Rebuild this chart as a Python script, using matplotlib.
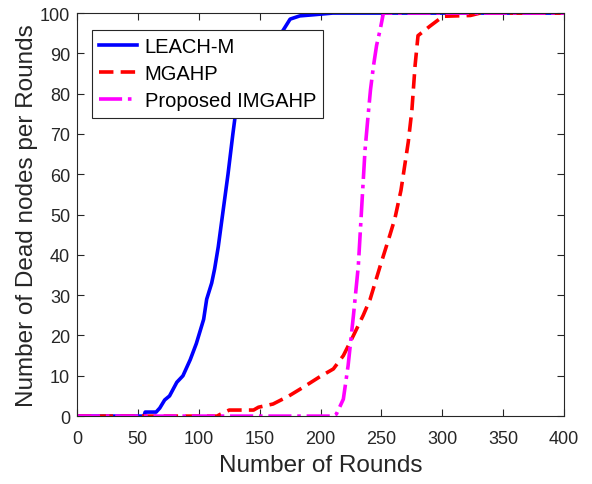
import matplotlib
matplotlib.use("Agg")
import matplotlib.pyplot as plt

plt.rcParams['font.family'] = ['Liberation Sans', 'DejaVu Sans']

# LEACH-M
leach_x = [0, 55, 56, 65, 68, 72, 76, 82, 87, 93, 98, 104, 106.5, 110.6, 113, 116,
           120, 124, 128, 131, 140, 150, 160, 169, 175, 183, 195, 210, 400]
leach_y = [0, 0, 1, 1, 2, 4, 5, 8.4, 10, 14, 18, 24, 29, 33, 36.5, 42,
           51, 60, 70, 77, 85, 90, 93, 95.6, 98.5, 99.3, 99.6, 100, 100]

# MGAHP
mgahp_x = [0, 115, 118, 125, 145, 149, 161, 174, 186, 198.5, 210.5, 218.7, 227, 235,
           240.7, 249, 257, 261, 266, 272, 275, 277.6, 280, 290, 300.6, 323, 331, 400]
mgahp_y = [0, 0, 0.5, 1.5, 1.5, 2.2, 3, 5, 7.2, 9.6, 11.7, 15, 20, 25,
           29, 37.3, 45, 49, 56, 68, 76, 87, 94.4, 96.8, 99.2, 99.4, 100, 100]

# Proposed IMGAHP
img_x = [0, 210, 213, 218.7, 222.6, 227, 231, 233.8, 236.5, 239, 241, 243.5, 246, 249, 251.6, 400]
img_y = [0, 0, 0.5, 4.2, 12.5, 25, 37.3, 52, 66, 74.5, 81, 87, 92, 96, 100, 100]

dark = '#262626'

fig = plt.figure(figsize=(5.92, 4.85), dpi=100)
ax = fig.add_axes([0.130, 0.140, 0.823, 0.831])

ax.plot(leach_x, leach_y, color='#0000ff', linewidth=2.6, label='LEACH-M')
ax.plot(mgahp_x, mgahp_y, color='#ff0000', linewidth=2.6, dashes=(4, 2), label='MGAHP')
ax.plot(img_x, img_y, color='#ff00ff', linewidth=2.6, linestyle='-.', label='Proposed IMGAHP')

ax.set_xlim(0, 400)
ax.set_ylim(0, 100)
ax.set_xticks(range(0, 401, 50))
ax.set_yticks(range(0, 101, 10))
ax.tick_params(direction='in', top=True, right=True, length=5, width=0.8,
               labelsize=13, colors=dark)
ax.tick_params(axis='x', pad=10)
ax.tick_params(axis='y', pad=5)
for s in ax.spines.values():
    s.set_color(dark)
    s.set_linewidth(0.8)

ax.set_xlabel('Number of Rounds', fontsize=17.5, color=dark, labelpad=5)
ax.set_ylabel('Number of Dead nodes per Rounds', fontsize=17.5, color=dark, labelpad=1.5)

leg = ax.legend(loc='upper left', bbox_to_anchor=(0.031, 0.958), fontsize=14.5,
                frameon=True, fancybox=False, framealpha=1, edgecolor=dark,
                handlelength=1.85, handletextpad=0.4, labelspacing=0.4,
                borderpad=0.36, borderaxespad=0)
leg.get_frame().set_linewidth(0.8)

fig.savefig('out.png', dpi=100)
